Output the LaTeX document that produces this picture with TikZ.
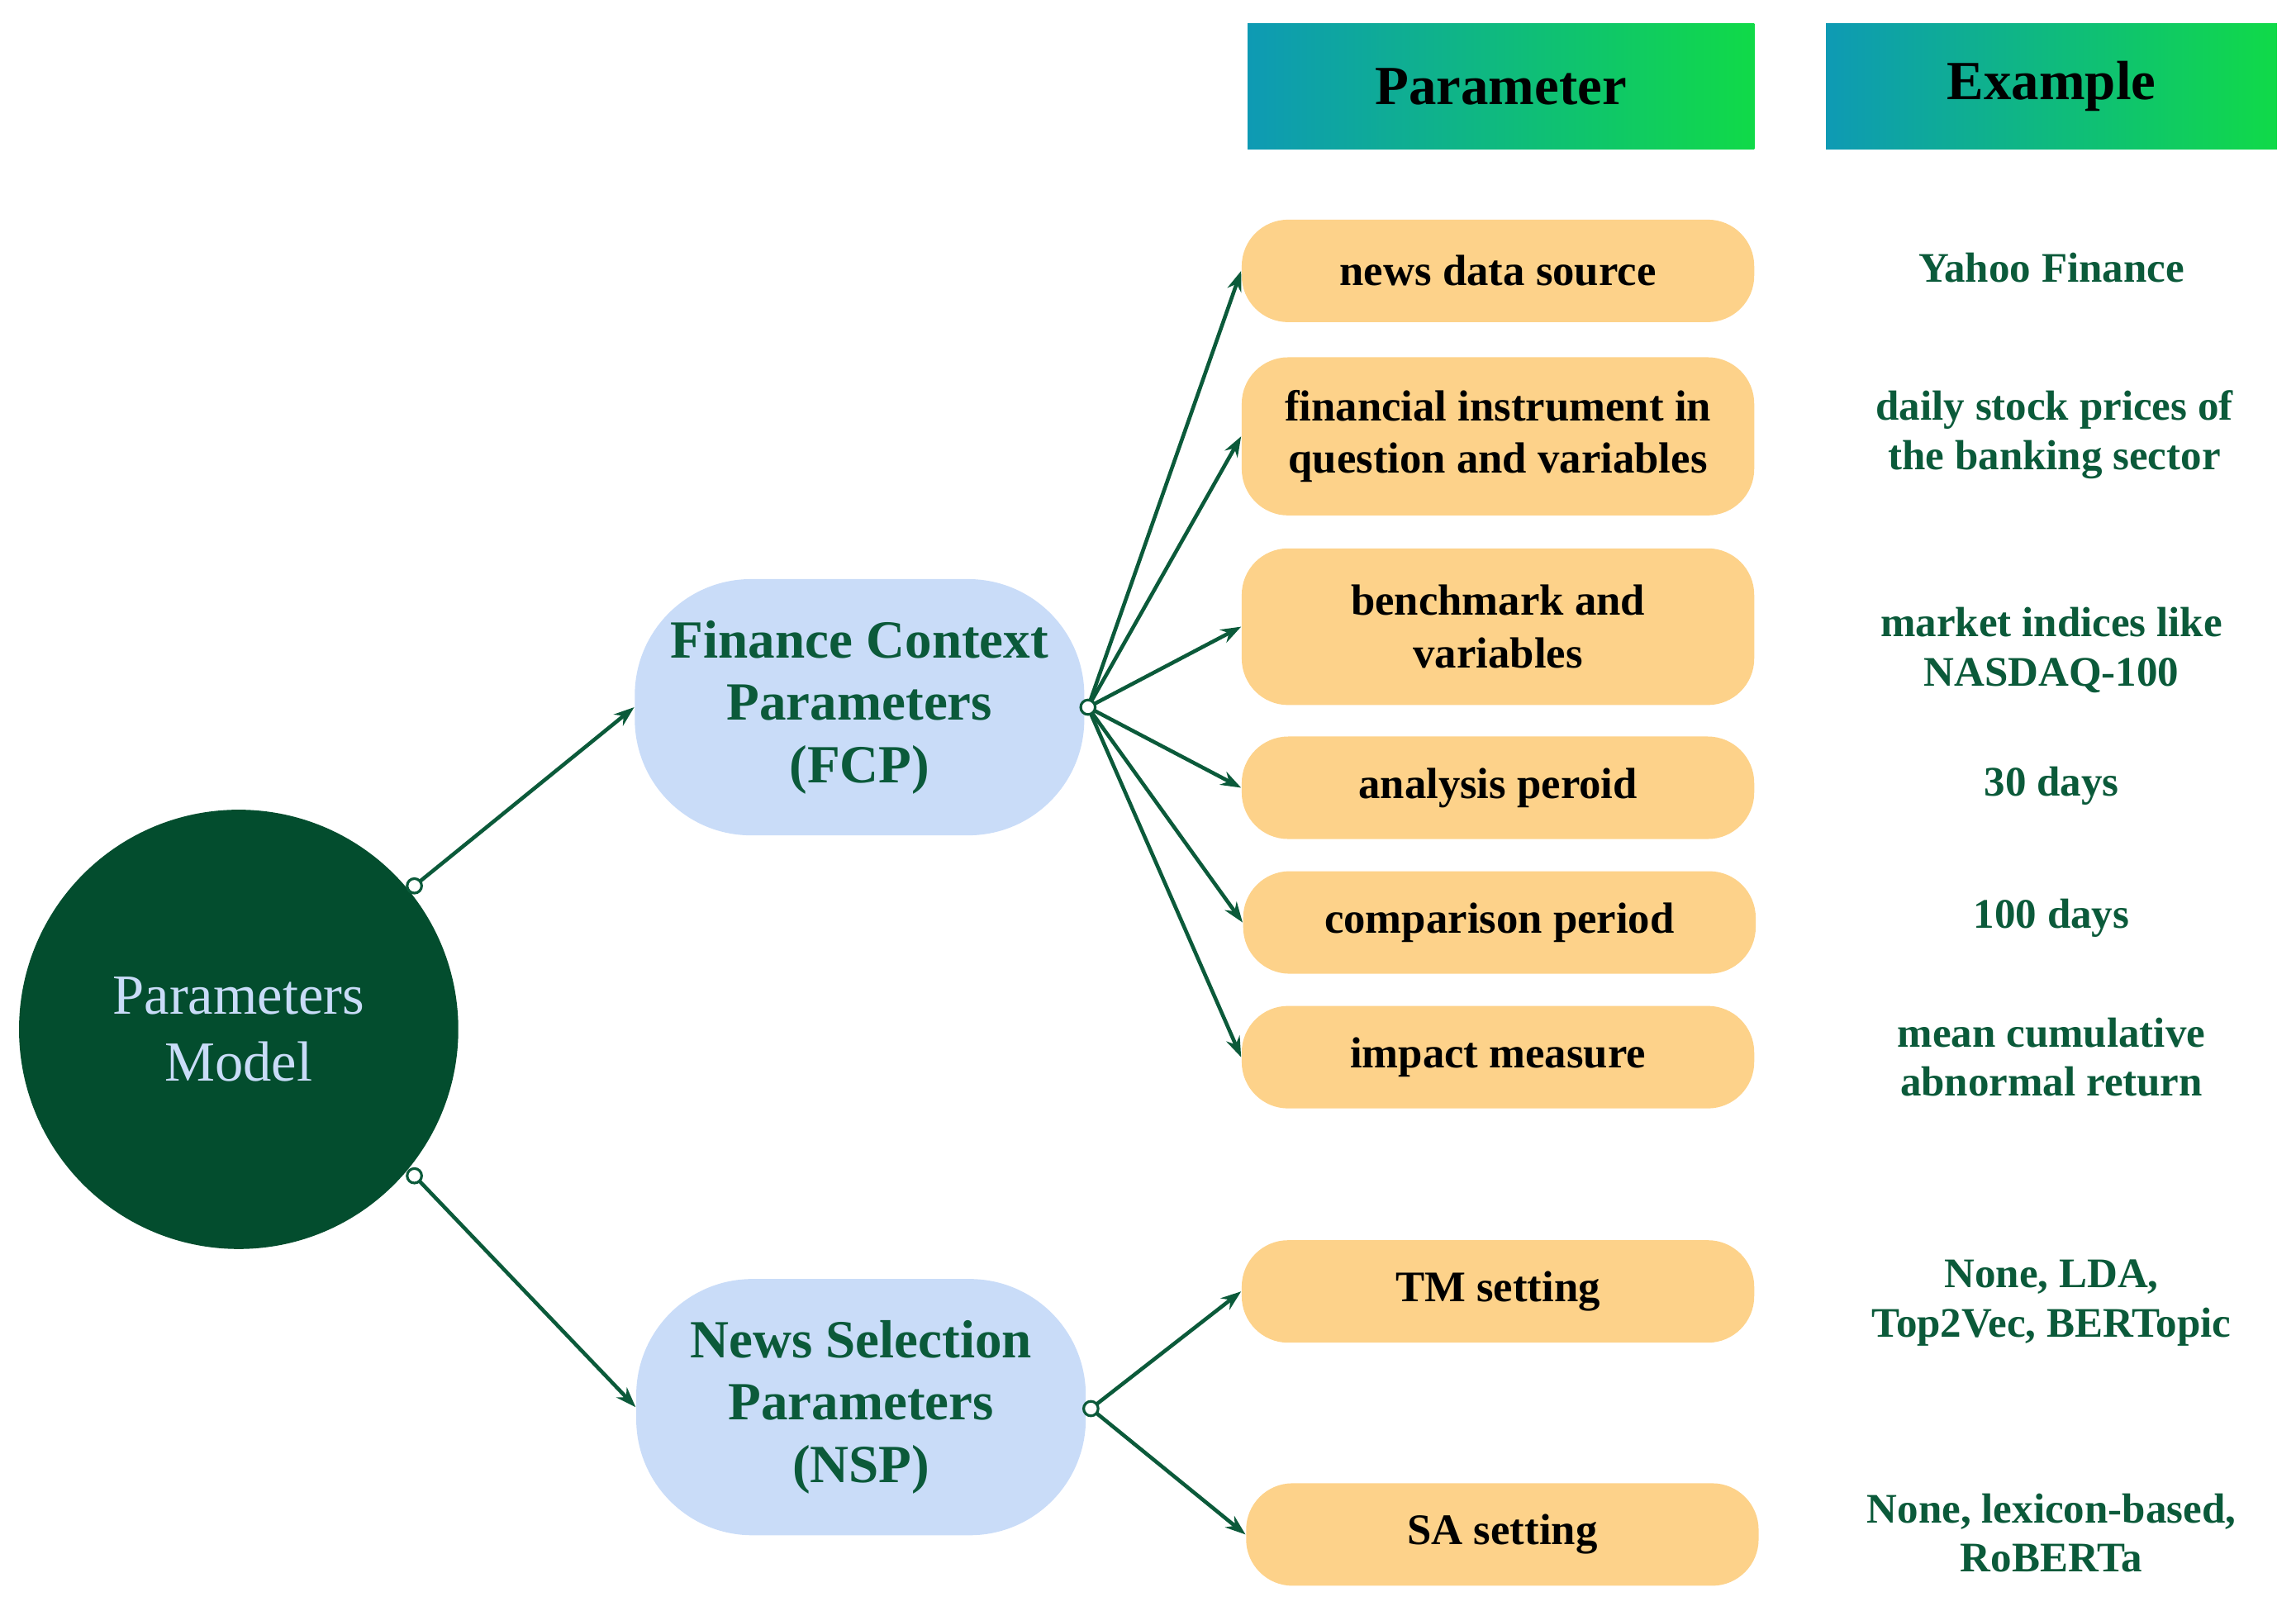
\documentclass[tikz,border=0pt]{standalone}
\usepackage{fontspec}
\setmainfont{Liberation Serif}
\usetikzlibrary{arrows.meta,shapes.geometric}
\definecolor{dg}{HTML}{034D2E}
\definecolor{tg}{HTML}{0B5A3A}
\definecolor{lb}{HTML}{C9DCF8}
\definecolor{org}{HTML}{FDD28A}
\definecolor{gl}{HTML}{0E9AB4}
\definecolor{gr}{HTML}{10DA48}
\begin{document}
\begin{tikzpicture}[x=0.01772cm,y=-0.01772cm,
  opt/.style={draw=none,fill=org,rounded corners=16pt,minimum width=350*0.01772cm,align=center,text=black,font=\bfseries\fontsize{15}{18}\selectfont,inner sep=0pt},
  ex/.style={align=center,text=tg,font=\bfseries\fontsize{14.5}{17}\selectfont},
  hd/.style={left color=gl,right color=gr,draw=none,minimum width=#1,minimum height=86*0.01772cm,font=\bfseries\fontsize{19}{22}\selectfont,text=black,inner sep=0pt},
  grp/.style={fill=lb,rounded corners=40pt,minimum width=307*0.01772cm,minimum height=175*0.01772cm,align=center,text=tg,font=\bfseries\fontsize{18.5}{21.5}\selectfont,inner sep=0pt},
  arr/.style={draw=tg,line width=1.3pt,-{Stealth[length=7pt,width=5pt]}},
  dot/.style={circle,draw=tg,fill=white,line width=0.9pt,inner sep=0pt,minimum size=5pt}]
\useasboundingbox (0,0) rectangle (1568,1100);
\node[hd=346*0.01772cm] (h1) at (1025,59) {Parameter};
\node[hd=308*0.01772cm] (h2) at (1401,59) {Example};
\node[circle,fill=dg,minimum size=300*0.01772cm,align=center,text=lb,font=\fontsize{19.5}{23}\selectfont] (pm) at (163,703) {Parameters\\Model};
\node[grp] (fcp) at (587,483) {Finance Context\\Parameters\\(FCP)};
\node[grp] (nsp) at (588,961) {News Selection\\Parameters\\(NSP)};
\node[opt,minimum height=70*0.01772cm] (o1) at (1023,185) {news data source};
\node[opt,minimum height=108*0.01772cm] (o2) at (1023,298) {financial instrument in\\question and variables};
\node[opt,minimum height=107*0.01772cm] (o3) at (1023,428) {benchmark and\\variables};
\node[opt,minimum height=70*0.01772cm] (o4) at (1023,538) {analysis peroid};
\node[opt,minimum height=70*0.01772cm] (o5) at (1024,630) {comparison period};
\node[opt,minimum height=70*0.01772cm] (o6) at (1023,722) {impact measure};
\node[opt,minimum height=70*0.01772cm] (o7) at (1023,882) {TM setting};
\node[opt,minimum height=70*0.01772cm] (o8) at (1026,1048) {SA setting};
\node[ex] (e1) at (1401,183) {Yahoo Finance};
\node[ex] (e2) at (1403,297) {daily stock prices of\\the banking sector};
\node[ex] (e3) at (1401,444) {market indices like\\NASDAQ-100};
\node[ex] (e4) at (1401,537) {30 days};
\node[ex] (e5) at (1401,627) {100 days};
\node[ex] (e6) at (1401,722) {mean cumulative\\abnormal return};
\node[ex] (e7) at (1401,890) {None, LDA,\\Top2Vec, BERTopic};
\node[ex] (e8) at (1401,1047) {None, lexicon-based,\\RoBERTa};
\coordinate (s1) at (283,605);
\coordinate (s2) at (283,803);
\coordinate (sf) at (743,483);
\coordinate (sn) at (745,962);
\draw[arr] (s1) -- (fcp.west);
\draw[arr] (s2) -- (nsp.west);
\foreach \o in {o1,o2,o3,o4,o5,o6} \draw[arr] (sf) -- (\o.west);
\foreach \o in {o7,o8} \draw[arr] (sn) -- (\o.west);
\node[dot] at (s1) {};
\node[dot] at (s2) {};
\node[dot] at (sf) {};
\node[dot] at (sn) {};
\end{tikzpicture}
\end{document}
